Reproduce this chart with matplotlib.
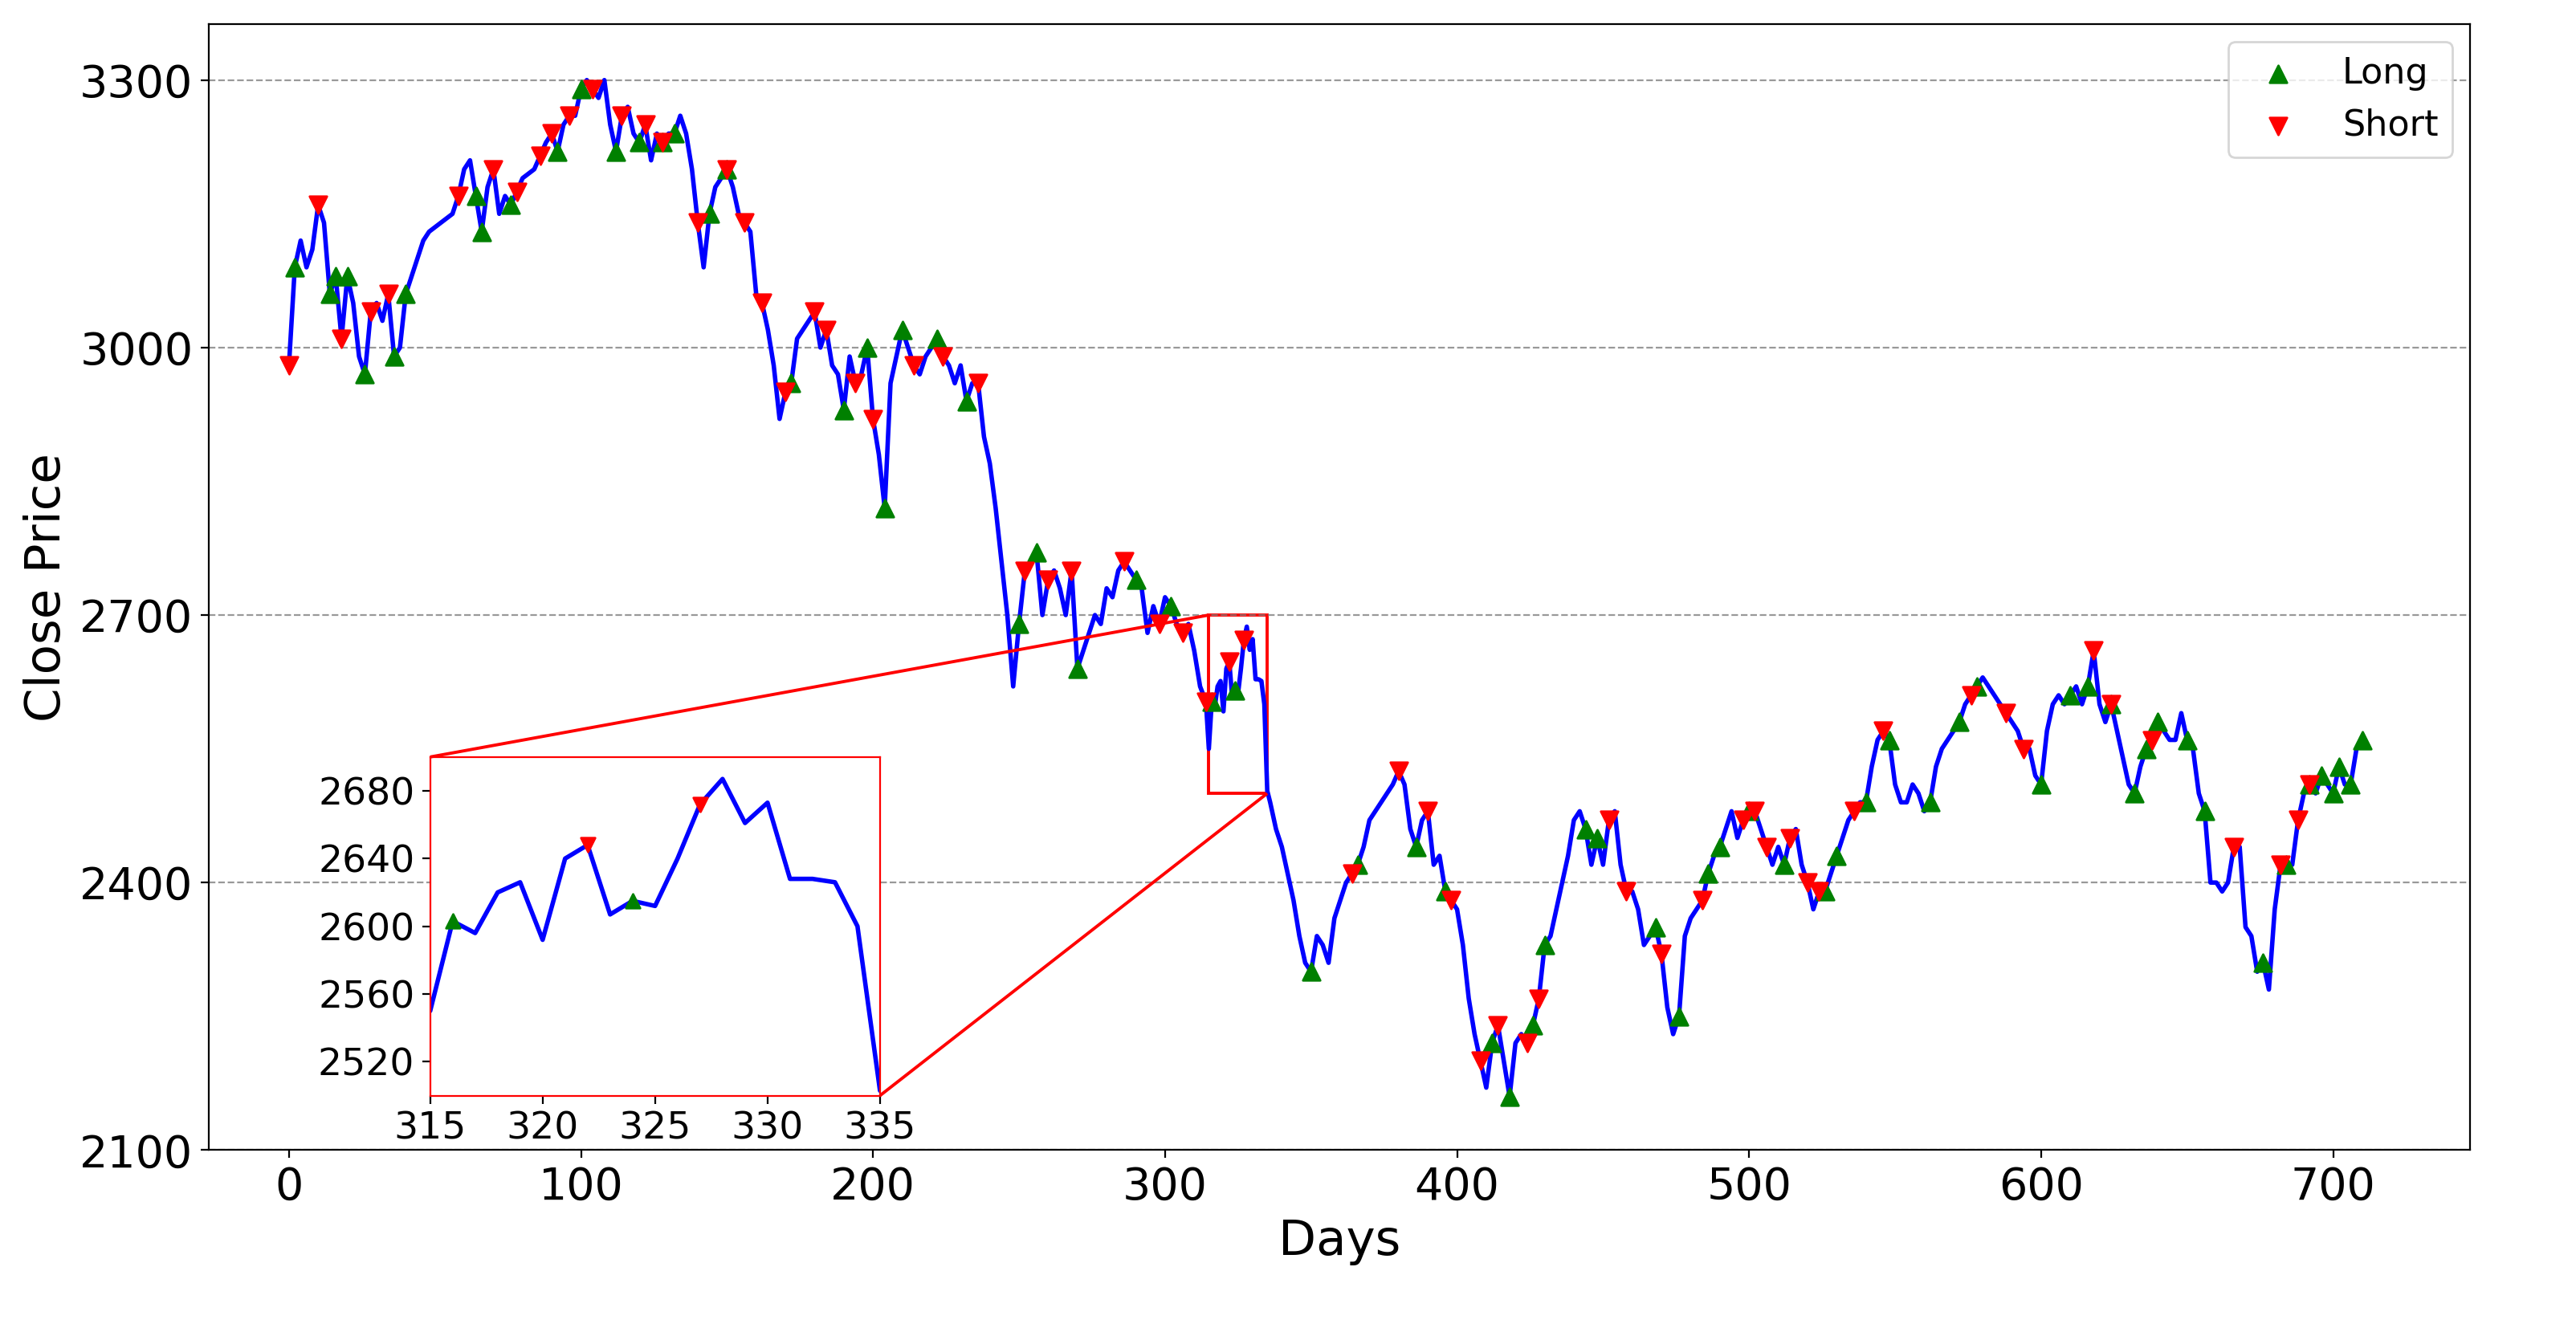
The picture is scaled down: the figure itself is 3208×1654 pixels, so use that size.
import numpy as np
import matplotlib
matplotlib.use("Agg")
import matplotlib.pyplot as plt
from mpl_toolkits.axes_grid1.inset_locator import mark_inset

days = list(range(0, 316, 2))
close = [2980,3090,3120,3090,3110,3160,3140,3060,3080,3010,3080,3050,2990,2970,3040,3050,3030,3060,2990,3000,
         3060,3080,3100,3120,3130,3135,3140,3145,3150,3170,3200,3210,3170,3130,3180,3200,3150,3170,3160,3175,
         3190,3195,3200,3215,3230,3240,3220,3250,3260,3260,3290,3300,3290,3280,3300,3250,3220,3260,3270,3240,
         3230,3250,3210,3240,3230,3240,3240,3260,3240,3200,3140,3090,3150,3180,3190,3200,3180,3150,3140,3130,
         3060,3050,3020,2980,2920,2950,2960,3010,3020,3030,3040,3000,3020,2980,2970,2930,2990,2960,2970,3000,
         2920,2880,2820,2960,2990,3020,3000,2980,2970,2990,3000,3010,2990,2980,2960,2980,2940,2960,2960,2900,
         2870,2820,2760,2700,2620,2690,2750,2760,2770,2700,2740,2750,2730,2700,2750,2640,2660,2680,2700,2690,
         2730,2720,2750,2760,2750,2740,2730,2680,2710,2690,2720,2710,2690,2680,2690,2660,2620,2603]
# zoomed window, daily
days += list(range(315, 336))
close += [2550,2603,2596,2620,2626,2592,2640,2648,2607,2615,2612,2640,2672,2687,2661,2673,2628,2628,2626,2600,2503]
days += list(range(336, 712, 2))
close += [2490,2460,2440,2410,2380,2340,2310,2300,2340,2330,2310,2360,2380,2400,2410,2420,2440,2470,2480,2490,
          2500,2510,2525,2510,2460,2440,2470,2480,2420,2430,2390,2380,2370,2330,2270,2230,2200,2170,2220,2240,
          2200,2160,2220,2230,2220,2240,2270,2330,2340,2370,2400,2430,2470,2480,2460,2420,2450,2420,2470,2480,
          2420,2390,2390,2370,2330,2340,2350,2320,2260,2230,2250,2340,2360,2370,2380,2410,2430,2440,2460,2480,
          2450,2470,2480,2480,2460,2440,2420,2440,2420,2450,2460,2420,2400,2370,2390,2390,2410,2430,2450,2470,
          2480,2490,2490,2530,2560,2570,2560,2510,2490,2490,2510,2500,2480,2490,2530,2550,2560,2570,2580,2600,
          2610,2620,2630,2620,2610,2600,2590,2580,2570,2550,2550,2520,2510,2570,2600,2610,2600,2610,2620,2600,
          2620,2660,2600,2580,2600,2570,2540,2510,2500,2530,2550,2560,2580,2570,2560,2560,2590,2560,2550,2500,
          2480,2400,2400,2390,2400,2440,2440,2350,2340,2300,2310,2280,2370,2420,2420,2420,2470,2500,2510,2500,
          2520,2510,2500,2530,2510,2510,2550,2560]

long_days = [2,14,16,20,26,36,40,64,66,76,92,100,112,120,128,132,144,150,172,190,198,204,210,222,232,250,256,
             270,290,302,316,324,350,366,386,396,412,418,426,430,444,448,468,476,486,490,500,512,526,530,540,548,
             562,572,578,600,610,616,624,632,636,640,650,656,676,684,692,696,700,702,706,710]
short_days = [0,10,18,28,34,58,70,78,86,90,96,104,114,122,128,140,150,156,162,170,180,184,194,200,214,224,236,
              252,260,268,286,298,306,314,322,327,364,380,390,398,408,414,424,428,452,458,470,484,498,502,506,514,
              520,524,536,546,576,588,594,618,624,638,666,682,688,692]

lookup = dict(zip(days, close))
long_vals = [lookup[d] for d in long_days]
short_vals = [lookup[d] for d in short_days]

fig = plt.figure(figsize=(16.04, 8.27), dpi=200)
ax = fig.add_axes([0.081, 0.134, 0.878, 0.848])
ax.plot(days, close, color='blue', lw=2, zorder=2)
ax.scatter(long_days, long_vals, marker='^', color='green', s=60, label='Long', zorder=3)
ax.scatter(short_days, short_vals, marker='v', color='red', s=60, label='Short', zorder=3)
ax.set_xlim(-27.5, 747)
ax.set_ylim(2100, 3363)
ax.set_yticks([2100, 2400, 2700, 3000, 3300])
ax.set_xticks([0, 100, 200, 300, 400, 500, 600, 700])
ax.tick_params(labelsize=20)
ax.yaxis.grid(True, linestyle='--', color='gray', alpha=0.8)
ax.set_xlabel('Days', fontsize=22)
ax.set_ylabel('Close Price', fontsize=22)
ax.legend(loc='upper right', fontsize=16, markerscale=1.0)

axins = fig.add_axes([0.167, 0.175, 0.1746, 0.255])
axins.plot(days, close, color='blue', lw=2)
axins.scatter(long_days, long_vals, marker='^', color='green', s=40, zorder=3)
axins.scatter(short_days, short_vals, marker='v', color='red', s=40, zorder=3)
axins.set_xlim(315, 335)
axins.set_ylim(2500, 2700)
axins.set_xticks([315, 320, 325, 330, 335])
axins.set_yticks([2520, 2560, 2600, 2640, 2680])
axins.tick_params(labelsize=17)
for s in axins.spines.values():
    s.set_color('red')
mark_inset(ax, axins, loc1=2, loc2=4, fc='none', ec='red', lw=1.4)

fig.savefig('out.png', dpi=200)
